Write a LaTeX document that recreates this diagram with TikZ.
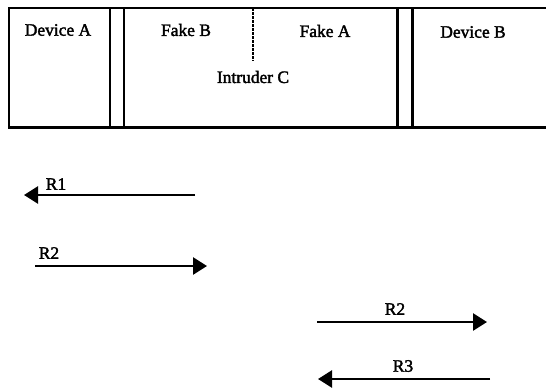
\documentclass[tikz,border=0pt]{standalone}
\usepackage{fontspec}
\setmainfont{Liberation Serif}
\newfontfamily\lblfont[FakeBold=2]{Liberation Serif}
\usetikzlibrary{arrows.meta}
\begin{document}
\begin{tikzpicture}[x=1bp,y=-1bp,
  frame/.style={line width=3pt},
  lbl/.style={font=\lblfont\fontsize{17.5}{20}\selectfont, inner sep=0pt},
  msg/.style={line width=2.6pt, -{Triangle[length=14bp,width=17bp]}}]
\useasboundingbox (0,0) rectangle (546,387);
% frame
\draw[frame] (546,8) -- (9,8) -- (9,127) -- (546,127);
\draw[frame] (110,8) -- (110,127);
\draw[frame] (124,8) -- (124,127);
\draw[frame] (397,8) -- (397,127);
\draw[frame] (412,8) -- (412,127);
\draw[line width=1.8pt, dash pattern=on 2.5bp off 1.5bp] (253,8) -- (253,61);
% labels
\node[lbl] (da) at (58,30) {Device A};
\node[lbl] (fb) at (186,30) {Fake B};
\node[lbl] (fa) at (325,31) {Fake A};
\node[lbl] (ic) at (253,77) {Intruder C};
\node[lbl] (db) at (473,32) {Device B};
% arrows
\coordinate (r1s) at (195,195); \coordinate (r1e) at (24,195);
\coordinate (r2s) at (35,266);  \coordinate (r2e) at (207,266);
\coordinate (r3s) at (317,322); \coordinate (r3e) at (487,322);
\coordinate (r4s) at (490,379); \coordinate (r4e) at (318,379);
\draw[msg] (r1s) -- (r1e);
\draw[msg] (r2s) -- (r2e);
\draw[msg] (r3s) -- (r3e);
\draw[msg] (r4s) -- (r4e);
\node[lbl] (l1) at (56,184) {R1};
\node[lbl] (l2) at (49,253) {R2};
\node[lbl] (l3) at (395,309) {R2};
\node[lbl] (l4) at (403,366) {R3};
\end{tikzpicture}
\end{document}
